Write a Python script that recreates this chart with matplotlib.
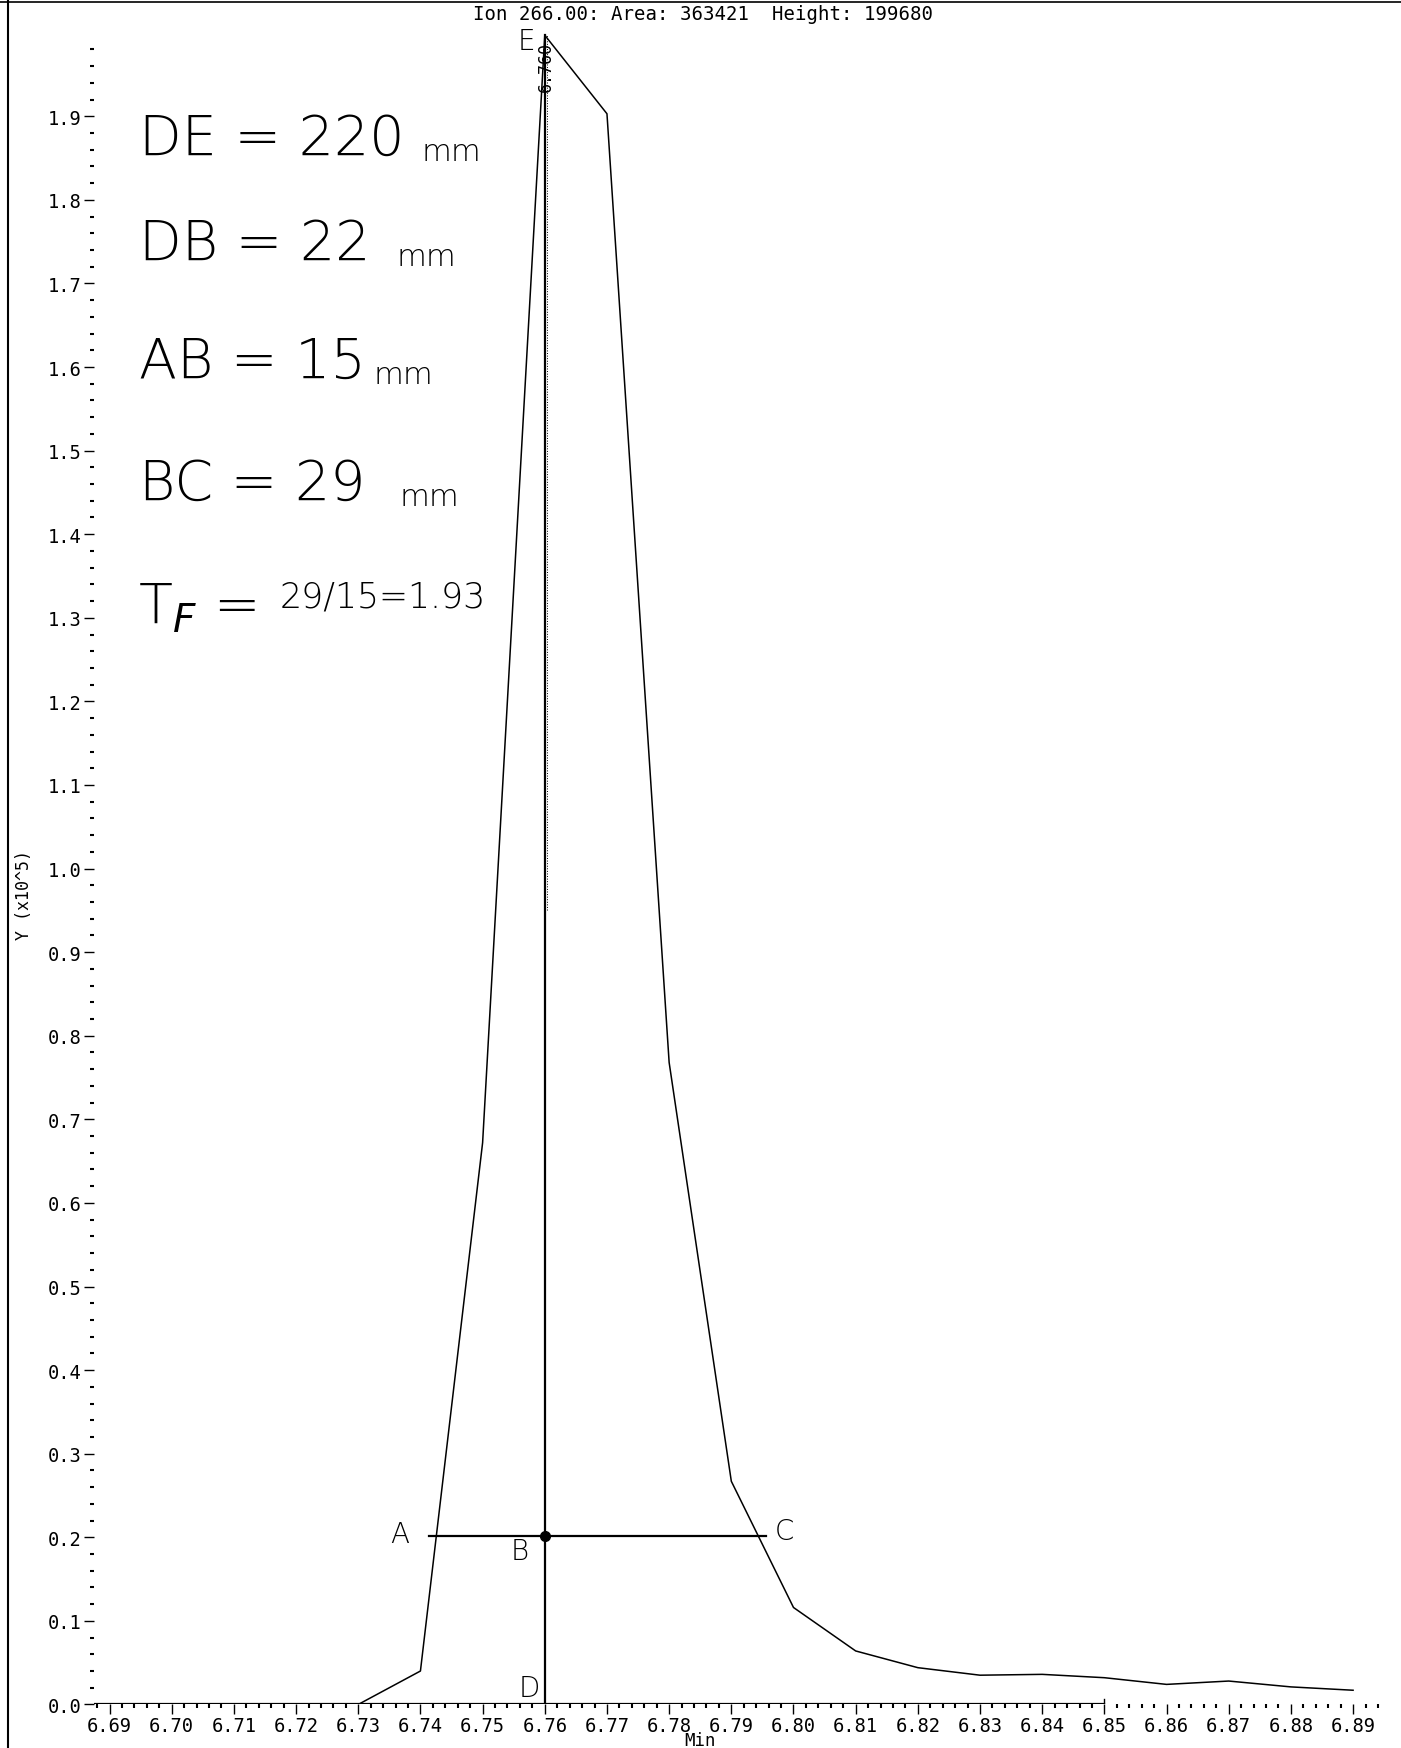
"""
Ion 266 chromatogram with tailing-factor notes
"""
import matplotlib
matplotlib.use("Agg")
import matplotlib.pyplot as plt
from matplotlib.ticker import MultipleLocator, FixedLocator
from matplotlib.lines import Line2D

# retention time (min) and abundance (x10^5)
times = [6.6875, 6.69, 6.70, 6.71, 6.72, 6.73, 6.74, 6.75, 6.76, 6.77, 6.78, 6.79,
         6.80, 6.81, 6.82, 6.83, 6.84, 6.85, 6.86, 6.87, 6.88, 6.89]
signal = [0.0, 0.0, 0.0, 0.0, 0.0, 0.0, 0.040, 0.672, 1.997, 1.903, 0.768, 0.267,
          0.116, 0.064, 0.044, 0.035, 0.036, 0.032, 0.024, 0.028, 0.021, 0.017]

title = "Ion 266.00: Area: 363421  Height: 199680"
peak_rt = 6.760
peak_top = 1.997
half_y = 0.2015          # level of line A-C
a_x, c_x = 6.7413, 6.7955
baseline_end = 6.85

notes = ["DE = 220", "DB = 22", "AB = 15", "BC = 29"]
note_units = ["mm", "mm", "mm", "mm"]
tf_left = "T$_F$ ="
tf_right = "29/15=1.93"

mono = "DejaVu Sans Mono"

fig = plt.figure(figsize=(14.01, 17.49), dpi=100)
ax = fig.add_axes([0.0671, 0.0249, 0.920, 0.9654])

ax.plot(times, signal, color="black", lw=1.1)
# integration baseline
ax.plot([times[0], baseline_end], [0, 0], color="black", lw=1.6)
ax.plot([baseline_end, baseline_end], [0, 0.006], color="black", lw=1)

# peak marker D-E and half-height line A-C
ax.plot([peak_rt, peak_rt], [0, peak_top], color="black", lw=1.6)
ax.plot([peak_rt + 0.0003] * 2, [0.95, peak_top], color="black", lw=0.7, ls=":")
ax.plot([a_x, c_x], [half_y, half_y], color="black", lw=1.6)
ax.plot([peak_rt], [half_y], "o", color="black", ms=7)
ax.text(peak_rt + 0.0002, 1.93, "6.760", rotation=90, family=mono, fontsize=12,
        va="bottom", ha="center")

ax.set_xlim(6.6875, 6.8948)
ax.set_ylim(0, 2.02)

ax.xaxis.set_major_locator(FixedLocator([round(6.69 + 0.01 * i, 2) for i in range(21)]))
ax.xaxis.set_minor_locator(MultipleLocator(0.002))
ax.yaxis.set_major_locator(FixedLocator([round(0.1 * i, 1) for i in range(20)]))
ax.yaxis.set_minor_locator(FixedLocator([round(0.02 * i, 2) for i in range(100) if i % 5]))

ax.set_xticklabels(["%.2f" % (6.69 + 0.01 * i) for i in range(21)], family=mono, fontsize=13.5)
ax.set_yticklabels(["%.1f" % (0.1 * i) for i in range(20)], family=mono, fontsize=13.5)
ax.tick_params(axis="both", which="major", direction="out", length=7, width=1, color="black")
ax.tick_params(axis="both", which="minor", direction="out", length=3, width=1.5, color="black")
ax.tick_params(axis="x", pad=1)
ax.tick_params(axis="y", pad=2)

for s in ["top", "right", "left", "bottom"]:
    ax.spines[s].set_visible(False)

fig.text(0.4995, 0.0015, "Min", family=mono, fontsize=12.5, ha="center", va="baseline")
ax.set_ylabel("Y (x10^5)", family=mono, fontsize=12)
ax.yaxis.set_label_coords(-0.047, 0.48)

fig.text(0.5015, 0.9915, title, family=mono, fontsize=13.7, ha="center", va="center")

# handwritten notes
hand = dict(color="black", fontsize=40, fontweight="light", family="DejaVu Sans", va="center")
small = dict(color="black", fontsize=22, fontweight="light", family="DejaVu Sans", va="center")
rows = [1.873, 1.747, 1.606, 1.46]
unit_x = [6.7402, 6.7361, 6.7325, 6.7366]
for txt, unit, yy, ux in zip(notes, note_units, rows, unit_x):
    ax.text(6.6948, yy, txt, **hand)
    ax.text(ux, yy - 0.015, unit, **small)
ax.text(6.6945, 1.313, tf_left, **hand)
ax.text(6.7173, 1.325, tf_right, color="black", fontsize=25, fontweight="light",
        family="DejaVu Sans", va="center")

letters = dict(color="black", fontsize=20, family="DejaVu Sans", fontweight="light")
ax.text(6.7585, 1.99, "E", ha="right", va="center", **letters)
ax.text(6.7367, 0.2035, "A", ha="center", va="center", **letters)
ax.text(6.7560, 0.183, "B", ha="center", va="center", **letters)
ax.text(6.7985, 0.208, "C", ha="center", va="center", **letters)
ax.text(6.7575, 0.003, "D", ha="center", va="bottom", **letters)

# scan edges
fig.add_artist(Line2D([0.006, 0.006], [0, 1], color="black", lw=1.5, transform=fig.transFigure))
fig.add_artist(Line2D([0, 1], [0.998, 0.998], color="black", lw=1.2, transform=fig.transFigure))

fig.savefig("out.png", dpi=100)
